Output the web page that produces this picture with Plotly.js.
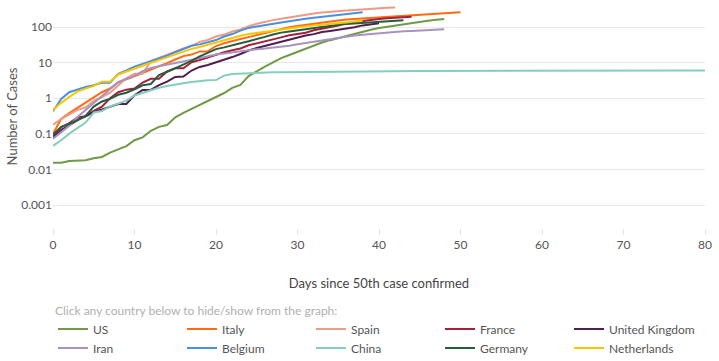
<!DOCTYPE html>
<html>
<head>
<meta charset="utf-8">
<script src="https://cdn.plot.ly/plotly-3.0.1.min.js"></script>
<style>html,body{margin:0;padding:0;background:#fff;overflow:hidden;}#chart{width:719px;height:380px;}</style>
</head>
<body>
<div id="chart"></div>
<script>
// Cases per 100k population, by days since 50th confirmed case
const countries = ["US","Italy","Spain","France","United Kingdom","Iran","Belgium","China","Germany","Netherlands"];
const colors = ["#6f9a47","#ff6b12","#ef9a85","#a4213c","#4f1f4f","#a893bf","#4a8fe0","#86cdbc","#255e3c","#f7c600"];

const us = [0.0155,0.0155,0.0173,0.0176,0.0182,0.0206,0.0224,0.0297,0.0358,0.0452,0.0658,0.0794,0.122,0.157,0.177,0.291,0.388,0.504,0.660,0.826,1.06,1.40,1.95,2.36,4.17,5.84,7.76,10.1,13.3,16.3,19.9,25.4,30.8,36.8,42.7,49.0,57.0,64.7,73.9,83.5,93.6,102.1,111.1,120.1,130.0,139.8,150.5,159.5,168.3];
const italy = [0.10,0.26,0.38,0.53,0.75,1.08,1.47,1.87,2.8,3.37,4.1,5.1,6.4,7.7,9.7,12.2,15.2,16.8,20.6,20.6,29.2,35,41,46,52,59,68,78,89,98,106,115,123,133,143,153,162,168,175,183,191,198,206,213,219,224,231,238,244,252,259];
const spain = [0.18,0.26,0.35,0.47,0.55,0.85,1.07,1.43,2.29,3.61,4.85,4.85,11.1,13.6,16.6,21.2,25.0,29.6,38.3,43.5,54.1,61.3,74.9,85.0,105.5,123.1,140,156,170.7,187.4,204.4,221.8,238.7,254,268.8,280.5,291.2,302.4,315.8,326.4,337.2,347.3,355.4];
const france = [0.087,0.153,0.199,0.29,0.31,0.44,0.58,1.0,1.47,1.74,1.87,2.75,3.51,3.51,5.64,6.89,6.94,10.2,11.8,14.0,16.8,19.5,22.1,24.9,30.8,34.6,39.2,45.3,51.2,58.4,62.3,69.2,80.9,88.4,99.8,110,130,140,150,160,167,175,182,188,194];
const uk = [0.077,0.128,0.173,0.245,0.31,0.41,0.48,0.57,0.69,0.69,1.20,1.71,1.71,2.32,2.93,3.95,4.04,5.99,7.55,8.55,10.0,12.1,14.3,17.5,21.9,25.7,29.4,33.3,37.8,44.3,50.7,57.4,63.0,71.9,77.6,83.1,91.3,97.9,110.9,118.8,126.7];
const iran = [0.073,0.114,0.167,0.295,0.467,0.714,1.18,1.81,2.81,3.52,4.23,5.72,7.02,7.91,8.63,9.69,10.8,12.1,13.7,15.3,16.8,18.1,19.5,20.9,22.2,23.7,24.8,26.1,27.8,29.9,32.6,35.4,39.0,42.7,46.2,50.0,53.7,57.3,60.8,64.1,67.2,70.1,72.9,75.4,77.8,79.8,82.2,84.4,86.4];
const belgium = [0.43,0.95,1.47,1.74,2.08,2.32,2.73,2.73,4.86,5.99,7.70,9.20,10.8,12.9,15.6,19.6,24.5,29.6,32.5,37.1,42.9,54.2,63.3,79.4,94.2,103.5,111.1,121.4,133.5,145.8,160.3,171.2,181.0,193.0,203.5,217.2,231.9,243.6,257.8];
const china = [0.046,0.066,0.101,0.149,0.207,0.396,0.438,0.586,0.705,0.855,1.196,1.418,1.706,1.974,2.20,2.454,2.648,2.865,3.047,3.193,3.22,4.309,4.774,4.922,5.073,5.211,5.339,5.368,5.401,5.435,5.540,5.541,5.557,5.594,5.623,5.655,5.678,5.709,5.750,5.765,5.774,5.783,5.794,5.805,5.811,5.815,5.817,5.819,5.822,5.822,5.823,5.826,5.828,5.830,5.832,5.835,5.839,5.845,5.849,5.859,5.863,5.870,5.875,5.884,5.892,5.899,5.908,5.914,5.919,5.925,5.930,5.936,5.938,5.943,5.947,5.951,5.958,5.963,5.967,5.972,5.981];
const germany = [0.095,0.157,0.19,0.24,0.32,0.58,0.81,0.96,1.25,1.42,1.76,2.30,2.50,4.43,5.52,6.98,8.76,11.2,14.9,18.5,23.9,26.8,30.0,35.0,39.7,45.0,52.9,61.3,69.5,74.8,80.6,86.5,93.8,102.2,109.8,115.8,120.6,124.5,129.7,136.5,142.4,147.2,150.5,154.0];
const netherlands = [0.47,0.74,1.09,1.53,1.86,2.21,2.91,2.91,4.65,5.54,6.56,8.17,9.86,11.9,14.2,17.3,21.0,24.3,27.5,32.1,37.1,43.0,50.0,56.8,63.2,68.3,73.2,79.2,85.5,92.6,98.6,104.2,109.4,113.9,119.5,126.6,134.4,142.0,148.8];

const xTickVals = [0,10,20,30,40,50,60,70,80];
const yTickVals = [0.001,0.01,0.1,1,10,100];
const yTickText = ["0.001","0.01","0.1","1","10","100"];

const series = [us,italy,spain,france,uk,iran,belgium,china,germany,netherlands];
const FONT = "Lato, 'Open Sans', sans-serif";

const traces = series.map((vals, i) => ({
  type: "scatter",
  mode: "lines",
  name: countries[i],
  x: vals.map((_, d) => d),
  y: vals,
  line: {color: colors[i], width: 2},
  hoverinfo: "skip"
}));

const layout = {
  width: 719, height: 380,
  margin: {l: 53, r: 14, t: 5, b: 152},
  paper_bgcolor: "#fff", plot_bgcolor: "#fff",
  font: {family: FONT, color: "#555", size: 12},
  showlegend: true,
  xaxis: {
    range: [0, 80], tickvals: xTickVals, showgrid: false, zeroline: false, showline: false,
    ticks: "outside", ticklen: 6, tickcolor: "#e3e3e3", tickwidth: 1,
    tickfont: {size: 12, color: "#555"},
    title: {text: "Days since 50th case confirmed", font: {size: 13, color: "#444"}, standoff: 27}
  },
  yaxis: {
    type: "log", range: [-3.646, 2.618], tickvals: yTickVals, ticktext: yTickText,
    showgrid: true, gridcolor: "#e8e8e8", zeroline: false, showline: false, ticks: "",
    tickfont: {size: 12, color: "#555"},
    title: {text: "Number of Cases", font: {size: 13, color: "#555"}}
  },
  legend: {
    orientation: "h", x: 0, xanchor: "left", y: -0.318, yanchor: "top",
    entrywidth: 84, entrywidthmode: "pixels",
    font: {size: 12, color: "#555"},
    title: {text: "Click any country below to hide/show from the graph:", side: "top", font: {size: 12, color: "#b0b0b0"}},
    tracegroupgap: 0
  }
};

Plotly.newPlot("chart", traces, layout, {displayModeBar: false, staticPlot: false});
</script>
</body>
</html>
